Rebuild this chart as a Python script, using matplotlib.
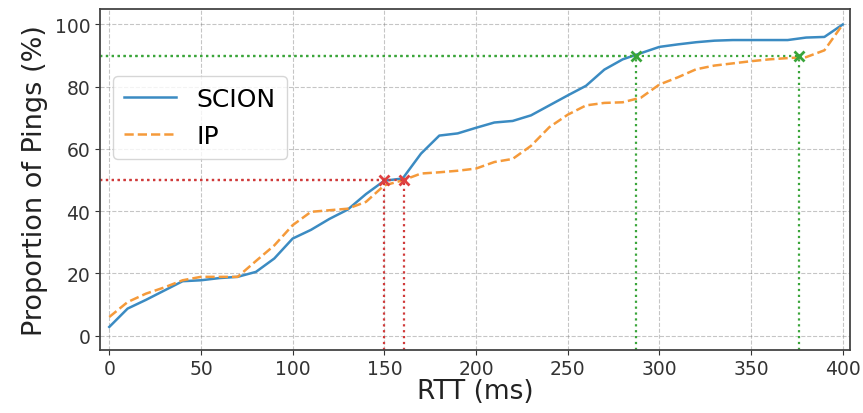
import matplotlib
matplotlib.use('Agg')
import matplotlib.pyplot as plt

# RTT em ms (passo de 10 ms)
rtt = list(range(0, 401, 10))

# Proporção acumulada de pings (%)
scion = [2.8, 8.7, 11.5, 14.5, 17.5, 17.8, 18.5, 18.9, 20.5, 24.8,
         31.2, 34, 37.5, 40.5, 45.5, 49.8, 50.5, 58.5, 64.3, 65,
         66.8, 68.5, 69, 70.8, 74, 77.2, 80.3, 85.5, 88.8, 90.8,
         92.8, 93.6, 94.3, 94.8, 95, 95, 95, 95, 95.8, 96, 100]
ip = [6, 10.8, 13.5, 15.5, 17.8, 18.9, 18.9, 18.9, 24, 29,
      35.5, 39.8, 40.3, 40.8, 43, 48.3, 49.9, 52.1, 52.5, 53,
      53.7, 55.8, 56.8, 61, 67, 71, 74, 74.8, 75, 76.5,
      80.7, 83, 85.6, 86.8, 87.5, 88.2, 88.8, 89.2, 89.5, 91.7, 100]

# Pontos de 50% e 90%
p50_x = [150, 161]
p90_x = [287, 376]

fig, ax = plt.subplots(figsize=(8.63, 4.14), dpi=100)
ax.plot(rtt, scion, color='#3b8bc2', linewidth=1.8, label='SCION')
ax.plot(rtt, ip, color='#f59a3a', linewidth=1.8, linestyle='--', label='IP')

xmin, xmax = -5, 404
ymin, ymax = -4.5, 105

for x in p50_x:
    ax.plot([xmin, x], [50, 50], color='#d03a3a', linestyle=':', linewidth=1.6)
    ax.plot([x, x], [ymin, 50], color='#d03a3a', linestyle=':', linewidth=1.6)
    ax.plot(x, 50, marker='x', color='#e04040', markersize=7, markeredgewidth=2)
for x in p90_x:
    ax.plot([xmin, x], [90, 90], color='#3aa53a', linestyle=':', linewidth=1.6)
    ax.plot([x, x], [ymin, 90], color='#3aa53a', linestyle=':', linewidth=1.6)
    ax.plot(x, 90, marker='x', color='#3aa53a', markersize=7, markeredgewidth=2)

ax.set_xlim(xmin, xmax)
ax.set_ylim(ymin, ymax)
ax.set_xticks(range(0, 401, 50))
ax.set_yticks(range(0, 101, 20))
ax.tick_params(labelsize=13.5, colors='#333333')
ax.set_xlabel('RTT (ms)', fontsize=19, labelpad=0, color='#222222')
ax.set_ylabel('Proportion of Pings (%)', fontsize=19.5, labelpad=5, color='#222222')
ax.grid(True, linestyle='--', color='gray', alpha=0.45)
for s in ax.spines.values():
    s.set_color('#444444')
    s.set_linewidth(1.3)
ax.legend(loc='upper left', bbox_to_anchor=(0.0, 0.84), fontsize=18,
          handlelength=2.1, borderpad=0.45, labelspacing=0.5)

fig.subplots_adjust(left=0.116, right=0.985, top=0.976, bottom=0.153)
fig.savefig('out.png', dpi=100)
